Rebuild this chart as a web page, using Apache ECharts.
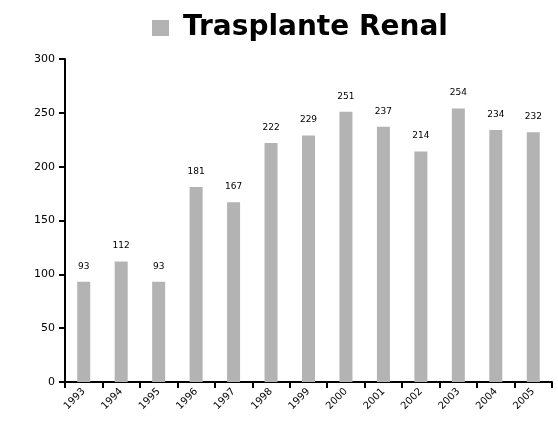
<!DOCTYPE html>
<html><head><meta charset="utf-8">
<script src="https://cdn.jsdelivr.net/npm/echarts@6/dist/echarts.min.js"></script>
<style>html,body{margin:0;padding:0;background:#fff}#c{width:558px;height:434px}</style>
</head><body><div id="c"></div>
<script>
const categories = ['1993','1994','1995','1996','1997','1998','1999','2000','2001','2002','2003','2004','2005'];
const seriesName = 'Trasplante Renal';
const values = [93, 112, 93, 181, 167, 222, 229, 251, 237, 214, 254, 234, 232];
const yTicks = [0, 50, 100, 150, 200, 250, 300];

const chart = echarts.init(document.getElementById('c'));
chart.setOption({
  animation: false,
  backgroundColor: '#fff',
  legend: {
    data: [seriesName], left: 147, top: 9,
    icon: 'rect', itemWidth: 17, itemHeight: 16, itemGap: 14,
    textStyle: {fontFamily: 'DejaVu Sans', fontWeight: 'bold', fontSize: 28, color: '#000', padding: [0, 0, 0, 9]}
  },
  grid: {left: 65, right: 6, top: 59, bottom: 52, containLabel: false},
  xAxis: {
    type: 'category', data: categories,
    axisLine: {lineStyle: {color: '#000', width: 2}},
    axisTick: {show: true, length: 6, lineStyle: {color: '#000', width: 2}},
    axisLabel: {rotate: 45, fontSize: 10, color: '#000', fontFamily: 'DejaVu Sans', margin: 8}
  },
  yAxis: {
    type: 'value', min: yTicks[0], max: yTicks[yTicks.length-1], interval: 50,
    axisLine: {show: true, lineStyle: {color: '#000', width: 2}},
    axisTick: {show: true, length: 6, lineStyle: {color: '#000', width: 2}},
    splitLine: {show: false},
    axisLabel: {fontSize: 11, color: '#000', fontFamily: 'DejaVu Sans', margin: 10}
  },
  series: [{
    name: seriesName, type: 'bar', data: values, barWidth: 13,
    itemStyle: {color: '#b3b3b3'},
    label: {show: true, position: 'top', distance: 11, fontSize: 9, color: '#000', fontFamily: 'DejaVu Sans'}
  }]
});
</script></body></html>
